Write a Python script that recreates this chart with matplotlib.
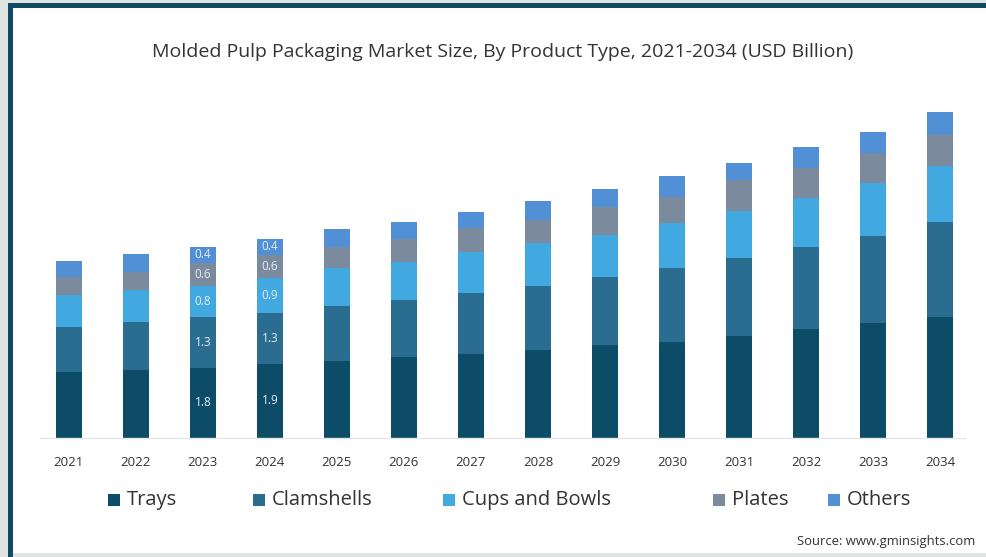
import matplotlib.pyplot as plt
from matplotlib.patches import Rectangle
import numpy as np

plt.rcParams['font.family'] = ['Open Sans', 'DejaVu Sans']

# data (USD Billion)
years = ["2021", "2022", "2023", "2024", "2025", "2026", "2027",
         "2028", "2029", "2030", "2031", "2032", "2033", "2034"]
trays = [1.70, 1.75, 1.8, 1.9, 1.97, 2.07, 2.15, 2.26, 2.38, 2.46, 2.62, 2.79, 2.95, 3.10]
clamshells = [1.15, 1.22, 1.3, 1.3, 1.41, 1.48, 1.56, 1.64, 1.74, 1.90, 2.00, 2.10, 2.23, 2.44]
cups_bowls = [0.82, 0.82, 0.8, 0.9, 0.97, 0.96, 1.05, 1.10, 1.08, 1.15, 1.20, 1.26, 1.36, 1.44]
plates = [0.46, 0.46, 0.6, 0.6, 0.54, 0.58, 0.62, 0.59, 0.72, 0.67, 0.79, 0.77, 0.77, 0.79]
others = [0.42, 0.47, 0.4, 0.4, 0.46, 0.45, 0.41, 0.49, 0.46, 0.54, 0.44, 0.54, 0.54, 0.59]

series_names = ["Trays", "Clamshells", "Cups and Bowls", "Plates", "Others"]
series = [trays, clamshells, cups_bowls, plates, others]
colors = ["#0d4c66", "#2b6d91", "#42a8e0", "#7b8a9c", "#5190d4"]
labelled_years = ["2023", "2024"]

W, H = 987, 557
fig = plt.figure(figsize=(W / 100, H / 100), dpi=100)
fig.patch.set_facecolor("#dfe4e1")

# white card with dark frame on top and left
fig.patches.append(Rectangle((13 / W, 4 / H), 1 - 13 / W, 1 - 12 / H,
                             transform=fig.transFigure, facecolor="white",
                             edgecolor="none", zorder=-2))
fig.patches.append(Rectangle((8 / W, 1 - 8 / H), 1 - 8 / W, 5 / H,
                             transform=fig.transFigure, facecolor="#0f4a66",
                             edgecolor="none", zorder=-1))
fig.patches.append(Rectangle((8 / W, 0), 5 / W, 1 - 3 / H,
                             transform=fig.transFigure, facecolor="#0f4a66",
                             edgecolor="none", zorder=-1))

ax = fig.add_axes([40 / W, (H - 438) / H, 925 / W, 351 / H])
ax.set_zorder(2)
ax.set_facecolor("none")

x = np.arange(len(years))
bottom = np.zeros(len(years))
for name, vals, col in zip(series_names, series, colors):
    vals = np.array(vals)
    ax.bar(x, vals, width=0.39, bottom=bottom, color=col, label=name, zorder=2)
    for i, yr in enumerate(years):
        if yr in labelled_years:
            ax.text(x[i], bottom[i] + vals[i] / 2, f"{vals[i]:.1f}",
                    ha="center", va="center", fontsize=8.5, color="#e4eef5", zorder=3)
    bottom += vals

ax.set_xlim(-0.43, 13.37)
ax.set_ylim(0, 9)
ax.set_xticks(x)
ax.set_xticklabels(years, fontsize=9.5, color="#333333")
ax.tick_params(axis="x", length=0, pad=13)
ax.set_yticks([])
for s in ["top", "right", "left"]:
    ax.spines[s].set_visible(False)
ax.spines["bottom"].set_color("#e3e6e8")
ax.spines["bottom"].set_linewidth(1)

fig.text(503 / W, 1 - 52 / H,
         "Molded Pulp Packaging Market Size, By Product Type, 2021-2034 (USD Billion)",
         ha="center", va="center", fontsize=14, color="#333333")

# legend drawn by hand to keep the uneven spacing of the original
legend_x = [108, 253, 443, 713, 828]
for name, col, lx in zip(series_names, colors, legend_x):
    fig.patches.append(Rectangle((lx / W, 1 - 506 / H), 12 / W, 12 / H,
                                 transform=fig.transFigure, facecolor=col,
                                 edgecolor="none"))
    fig.text((lx + 19) / W, 1 - 500 / H, name, ha="left", va="center",
             fontsize=14.5, color="#333333")

fig.text(975 / W, 1 - 541 / H, "Source: www.gminsights.com", ha="right",
         va="center", fontsize=9.4, color="#333333")

fig.savefig("out.png", dpi=100, facecolor=fig.get_facecolor())
